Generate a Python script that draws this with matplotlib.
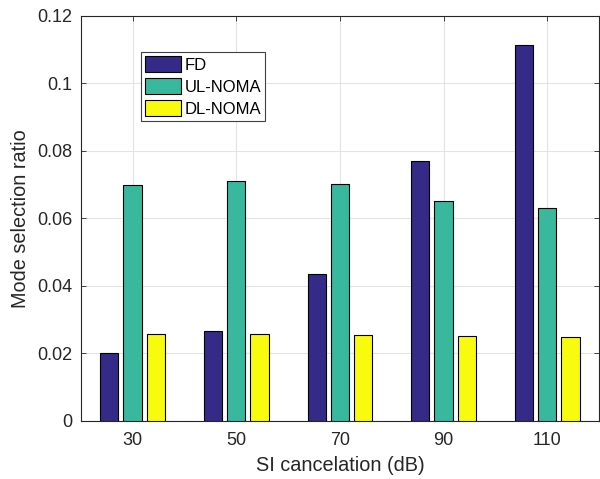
import matplotlib.pyplot as plt
import numpy as np

plt.rcParams['font.family'] = ['Liberation Sans', 'DejaVu Sans']

si_db = ['30', '50', '70', '90', '110']
fd = [0.0200, 0.0267, 0.0436, 0.0770, 0.1113]
ul_noma = [0.0699, 0.0710, 0.0701, 0.0650, 0.0631]
dl_noma = [0.0256, 0.0256, 0.0254, 0.0251, 0.0249]

series = [('FD', fd, '#352A87'),
          ('UL-NOMA', ul_noma, '#38B99E'),
          ('DL-NOMA', dl_noma, '#F9FB0E')]

fig = plt.figure(figsize=(6, 4.79), dpi=100)
# axes box runs almost to the right edge of the image
ax = fig.add_axes([0.1345, 0.1217, 0.864, 0.8455])

x = np.arange(len(si_db))
offs = [-0.224, 0, 0.224]
for (name, vals, col), off in zip(series, offs):
    ax.bar(x + off, vals, width=0.176, color=col, edgecolor='black',
           linewidth=0.8, label=name, zorder=3)

ax.set_xlim(-0.5, 4.5)
ax.set_ylim(0, 0.12)
ax.set_xticks(x)
ax.set_xticklabels(si_db)
ax.set_yticks([0, 0.02, 0.04, 0.06, 0.08, 0.1, 0.12])
ax.set_yticklabels(['0', '0.02', '0.04', '0.06', '0.08', '0.1', '0.12'])
ax.grid(True, color='#E3E3E3', linewidth=0.8, zorder=0)
ax.tick_params(direction='in', top=True, right=True, labelsize=13,
               colors='#262626', length=3.6, width=0.6, pad=6)
ax.tick_params(axis='x', pad=8)
for s in ax.spines.values():
    s.set_color('#262626')
    s.set_linewidth(0.8)

ax.set_xlabel('SI cancelation (dB)', fontsize=14.3, color='#262626',
              labelpad=5)
ax.set_ylabel('Mode selection ratio', fontsize=14.3, color='#262626',
              labelpad=5)

leg = ax.legend(loc='upper left', bbox_to_anchor=(0.1163, 0.910),
                fontsize=12, fancybox=False, framealpha=1,
                edgecolor='#404040', borderpad=0.24, labelspacing=0.32,
                handlelength=2.16, handleheight=1.08, handletextpad=0.2,
                borderaxespad=0)
leg.get_frame().set_linewidth(0.8)

fig.savefig('out.png', dpi=100)
